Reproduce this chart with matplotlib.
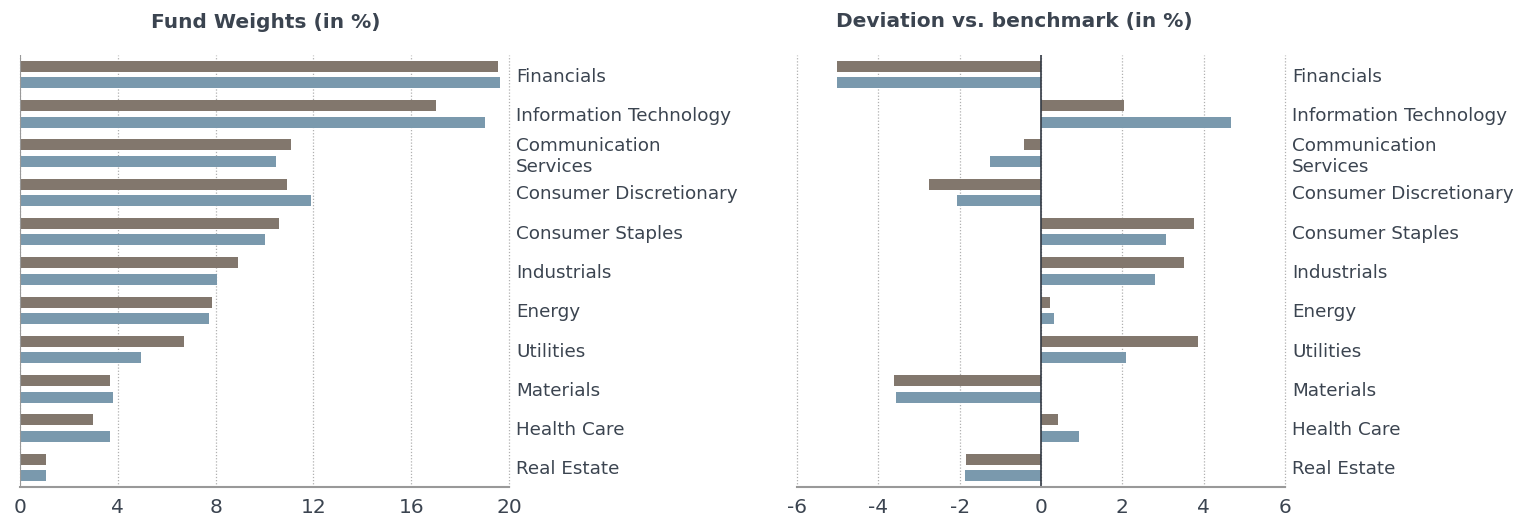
import matplotlib.pyplot as plt
import numpy as np

sectors = ["Financials", "Information Technology", "Communication\nServices",
           "Consumer Discretionary", "Consumer Staples", "Industrials", "Energy",
           "Utilities", "Materials", "Health Care", "Real Estate"]

# fund weights (in %)
weights_a = [19.55, 17.0, 11.1, 10.9, 10.6, 8.9, 7.85, 6.7, 3.7, 3.0, 1.05]
weights_b = [19.65, 19.0, 10.45, 11.9, 10.0, 8.05, 7.75, 4.95, 3.8, 3.7, 1.05]

# deviation vs. benchmark (in %)
dev_a = [-5.02, 2.04, -0.42, -2.75, 3.76, 3.52, 0.22, 3.86, -3.61, 0.42, -1.84]
dev_b = [-5.02, 4.67, -1.25, -2.07, 3.07, 2.8, 0.32, 2.09, -3.57, 0.93, -1.87]

brown = "#82776d"
blue = "#7a99ad"
text_col = "#3b4450"

fig = plt.figure(figsize=(15.19, 5.15), dpi=100)
ax1 = fig.add_axes([20/1519, 1-487/515, 489/1519, 432/515])
ax2 = fig.add_axes([797/1519, 1-487/515, 488/1519, 432/515])

y = np.arange(len(sectors))
h = 0.28
off = 0.21


def style(ax, xlim, ticks):
    ax.set_xlim(*xlim)
    ax.set_ylim(len(sectors) - 0.5, -0.5)
    ax.set_xticks(ticks)
    ax.set_xticklabels([str(t) for t in ticks])
    ax.xaxis.grid(True, linestyle=(0, (1, 1.5)), color="#b0b0b0", linewidth=0.9)
    for gl in ax.get_xgridlines():
        gl.set_clip_on(False)
    ax.set_axisbelow(True)
    ax.yaxis.tick_right()
    ax.set_yticks(y)
    ax.set_yticklabels(sectors, ha="left")
    ax.tick_params(axis="y", length=0, pad=5, labelsize=13.2, labelcolor=text_col)
    ax.tick_params(axis="x", length=0, pad=8, labelsize=14.5, labelcolor=text_col)
    for s in ["top", "right", "left"]:
        ax.spines[s].set_visible(False)
    ax.spines["bottom"].set_color("#999999")
    ax.spines["bottom"].set_linewidth(1.5)


ax1.barh(y - off, weights_a, height=h, color=brown)
ax1.barh(y + off, weights_b, height=h, color=blue)
style(ax1, (0, 20), [0, 4, 8, 12, 16, 20])
ax1.axvline(0, color="#999999", linewidth=1.5)

ax2.barh(y - off, dev_a, height=h, color=brown)
ax2.barh(y + off, dev_b, height=h, color=blue)
style(ax2, (-6, 6), [-6, -4, -2, 0, 2, 4, 6])
ax2.axvline(0, color="#333a44", linewidth=1.2)

fig.text(266/1519, 1-22/515, "Fund Weights (in %)", ha="center", va="center",
         fontsize=14.5, fontweight="bold", color=text_col)
fig.text(1014/1519, 1-22/515, "Deviation vs. benchmark (in %)", ha="center", va="center",
         fontsize=14.5, fontweight="bold", color=text_col)

plt.savefig("out.png")
plt.close()
